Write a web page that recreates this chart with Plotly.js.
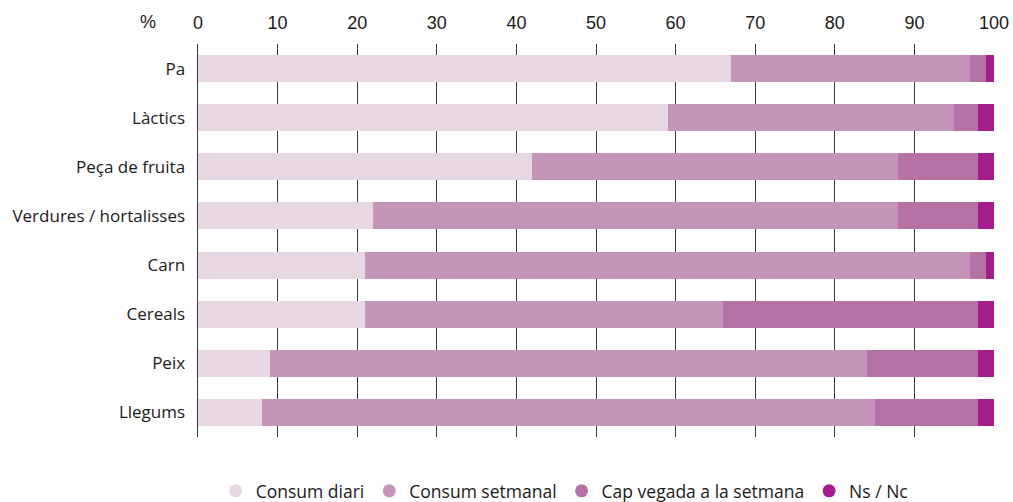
<!DOCTYPE html>
<html><head><meta charset="utf-8">
<script src="https://cdn.plot.ly/plotly-3.0.1.min.js"></script>
<style>html,body{margin:0;padding:0;background:#fff}#chart{width:1013px;height:502px}</style>
</head><body><div id="chart"></div>
<script>
const categories = ["Pa","Làctics","Peça de fruita","Verdures / hortalisses","Carn","Cereals","Peix","Llegums"];
const seriesNames = ["Consum diari","Consum setmanal","Cap vegada a la setmana","Ns / Nc"];
const consumDiari    = [67, 59, 42, 22, 21, 21, 9, 8];
const consumSetmanal = [30, 36, 46, 66, 76, 45, 75, 77];
const capVegada      = [2, 3, 10, 10, 2, 32, 14, 13];
const nsNc           = [1, 2, 2, 2, 1, 2, 2, 2];
const colors = ["#e7d7e3","#c595b9","#b672a5","#a51c8d"];
const xTicks = [0,10,20,30,40,50,60,70,80,90,100];

const values = [consumDiari, consumSetmanal, capVegada, nsNc];
const traces = [];
values.forEach((v,i)=>{
  traces.push({type:"bar", orientation:"h", x:v, y:categories, name:seriesNames[i],
    marker:{color:colors[i], line:{width:0}}, showlegend:false, hoverinfo:"x+name"});
});
values.forEach((v,i)=>{
  traces.push({type:"scatter", mode:"markers", x:[null], y:[null], name:seriesNames[i],
    marker:{color:colors[i], size:13, symbol:"circle"}, showlegend:true, hoverinfo:"skip"});
});

const layout = {
  width:1013, height:502,
  margin:{l:198, r:19, t:44, b:65, autoexpand:false},
  barmode:"stack", bargap:0.45,
  paper_bgcolor:"#fff", plot_bgcolor:"#fff",
  font:{family:"Liberation Sans, Arial, sans-serif", color:"#1a1a1a"},
  xaxis:{side:"top", range:[0,100], tickvals:xTicks, ticktext:xTicks.map(String),
    showgrid:true, gridcolor:"#3a3a3a", gridwidth:1, zeroline:false, showline:false,
    ticks:"", ticklabelstandoff:10, tickfont:{size:18, family:"Liberation Sans, Arial, sans-serif", color:"#1a1a1a"},
    fixedrange:true},
  yaxis:{type:"category", categoryorder:"array", categoryarray:categories, autorange:"reversed",
    showgrid:false, showline:true, linecolor:"#3a3a3a", linewidth:1.5, ticks:"",
    ticklabelstandoff:8, tickfont:{size:17, family:"Open Sans, Noto Sans, sans-serif", color:"#1a1a1a"}, fixedrange:true},
  legend:{orientation:"h", traceorder:"normal", x:0.557, xanchor:"center", xref:"container",
    y:0.022, yanchor:"middle", yref:"container",
    font:{size:17.5, family:"Open Sans, Noto Sans, sans-serif", color:"#1a1a1a"}, itemwidth:30, tracegroupgap:0},
  annotations:[{text:"%", xref:"paper", yref:"paper", x:-0.063, y:1, yshift:22, xanchor:"center", yanchor:"middle",
    showarrow:false, font:{size:18, family:"Liberation Sans, Arial, sans-serif", color:"#1a1a1a"}}]
};
Plotly.newPlot("chart", traces, layout, {displayModeBar:false, staticPlot:true});
</script></body></html>
